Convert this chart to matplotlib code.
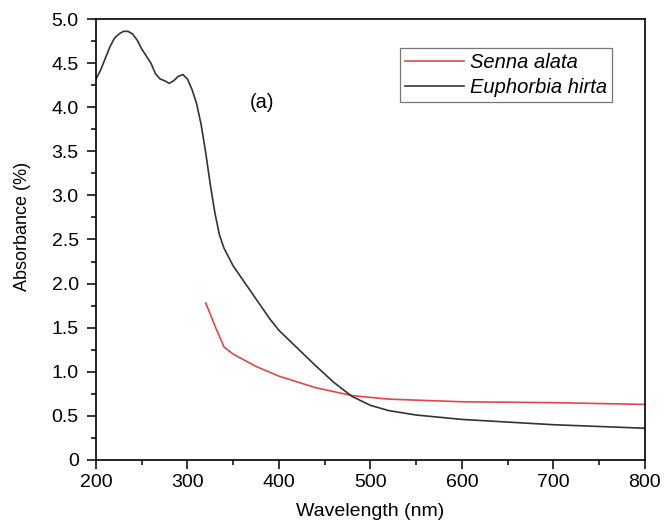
import matplotlib
matplotlib.use('Agg')
import matplotlib.pyplot as plt
from matplotlib.ticker import MultipleLocator

plt.rcParams['font.family'] = ['Liberation Sans', 'DejaVu Sans']

# Euphorbia hirta absorbance spectrum
euph_wl = [200, 205, 210, 215, 220, 225, 230, 235, 240, 245, 250, 255, 260, 265,
           270, 275, 280, 285, 290, 295, 300, 305, 310, 315, 320, 325, 330, 335,
           340, 350, 360, 370, 380, 390, 400, 420, 440, 460, 480, 500, 520, 550,
           600, 650, 700, 750, 800]
euph_abs = [4.32, 4.42, 4.55, 4.68, 4.78, 4.83, 4.86, 4.86, 4.83, 4.76, 4.66, 4.58,
            4.50, 4.38, 4.32, 4.30, 4.27, 4.30, 4.35, 4.37, 4.32, 4.20, 4.04, 3.80,
            3.48, 3.12, 2.80, 2.55, 2.40, 2.20, 2.05, 1.90, 1.75, 1.60, 1.47, 1.27,
            1.07, 0.88, 0.72, 0.62, 0.56, 0.51, 0.46, 0.43, 0.40, 0.38, 0.36]

# Senna alata absorbance spectrum
senna_wl = [320, 330, 340, 350, 375, 400, 440, 480, 520, 600, 700, 800]
senna_abs = [1.78, 1.52, 1.28, 1.20, 1.06, 0.95, 0.82, 0.73, 0.69, 0.66, 0.65, 0.63]

fig = plt.figure(figsize=(6.64, 5.22), dpi=100)
ax = fig.add_axes([0.1446, 0.1188, 0.8264, 0.8448])

ax.plot(senna_wl, senna_abs, color='#e0474c', lw=1.2, label='Senna alata')
ax.plot(euph_wl, euph_abs, color='#333333', lw=1.2, label='Euphorbia hirta')

ax.set_xlim(200, 800)
ax.set_ylim(0, 5.0)
ax.xaxis.set_major_locator(MultipleLocator(100))
ax.xaxis.set_minor_locator(MultipleLocator(50))
ax.yaxis.set_minor_locator(MultipleLocator(0.25))
ax.set_yticks([0, 0.5, 1.0, 1.5, 2.0, 2.5, 3.0, 3.5, 4.0, 4.5, 5.0])
ax.set_yticklabels(['0', '0.5', '1.0', '1.5', '2.0', '2.5', '3.0', '3.5', '4.0', '4.5', '5.0'])
ax.tick_params(which='major', direction='out', length=6.5, width=1.1, labelsize=14)
ax.tick_params(which='minor', direction='out', length=3.5, width=1.1)
ax.tick_params(axis='x', which='major', pad=3.5)
ax.tick_params(axis='y', which='major', pad=6)
for sp in ax.spines.values():
    sp.set_linewidth(1.2)

ax.set_xlabel('Wavelength (nm)', fontsize=14, labelpad=9)
ax.set_ylabel('Absorbance (%)', fontsize=13, labelpad=16)
ax.yaxis.set_label_coords(-0.118, 0.53)

ax.text(368, 4.05, '(a)', fontsize=14.5, va='center')

leg = ax.legend(loc='upper right', bbox_to_anchor=(0.94, 0.934),
                prop={'style': 'italic', 'size': 14.5},
                frameon=True, fancybox=False, edgecolor='#555555', borderpad=0.25,
                handlelength=2.9, handletextpad=0.3, labelspacing=0.3, borderaxespad=0)
leg.get_frame().set_linewidth(0.9)

fig.savefig('out.png', dpi=100)
